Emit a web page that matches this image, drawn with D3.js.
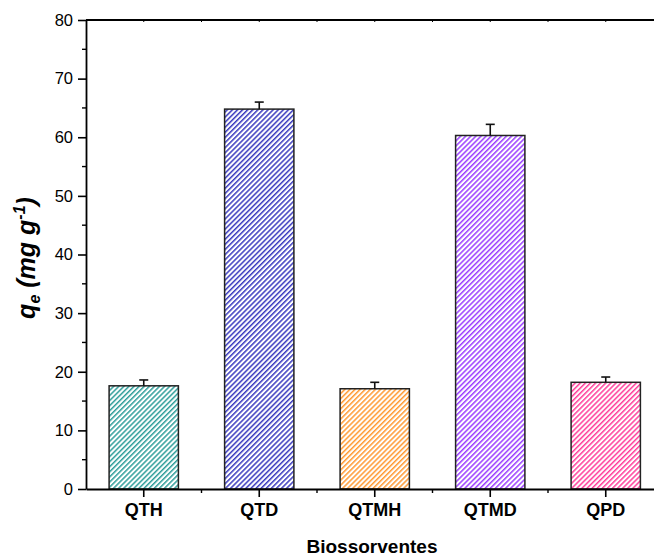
<!DOCTYPE html>
<html>
<head>
<meta charset="utf-8">
<script src="https://cdn.jsdelivr.net/npm/d3@7"></script>
<style>
  html, body { margin: 0; padding: 0; background: #fff; }
  svg { display: block; }
  text { font-family: "Liberation Sans", Arial, sans-serif; fill: #000; }
</style>
</head>
<body>
<svg id="chart" width="654" height="557"></svg>
<script>
// Adsorption capacity per biosorbent
const categories = ["QTH", "QTD", "QTMH", "QTMD", "QPD"];
const qeValues   = [17.6, 64.8, 17.1, 60.3, 18.2];
const qeErrors   = [1.0, 1.2, 1.1, 1.9, 0.9];
const barColors  = ["#2f9e9a", "#3a3abf", "#ff9a33", "#9a3dff", "#ff3d9a"];
const yTicks     = [0, 10, 20, 30, 40, 50, 60, 70, 80];

const svg = d3.select("#chart");
const margin = { left: 86, top: 20, bottom: 489 };
const step = 115.5;
const right = margin.left + step * categories.length;

const x = d3.scaleBand()
  .domain(categories)
  .range([margin.left, right])
  .paddingInner(0.4)
  .paddingOuter(0.2);

const y = d3.scaleLinear().domain([0, 80]).range([margin.bottom, margin.top]);

// hatch patterns, one per bar colour
const defs = svg.append("defs");
barColors.forEach((c, i) => {
  const p = defs.append("pattern")
    .attr("id", "hatch" + i)
    .attr("patternUnits", "userSpaceOnUse")
    .attr("width", 3.6)
    .attr("height", 10)
    .attr("patternTransform", "rotate(45)");
  p.append("rect").attr("width", 3.6).attr("height", 10).attr("fill", "#fff");
  p.append("rect").attr("width", 1.5).attr("height", 10).attr("fill", c);
});

// bars
svg.append("g").selectAll("rect")
  .data(categories)
  .join("rect")
  .attr("x", d => x(d))
  .attr("y", (d, i) => y(qeValues[i]))
  .attr("width", x.bandwidth())
  .attr("height", (d, i) => y(0) - y(qeValues[i]))
  .attr("fill", (d, i) => `url(#hatch${i})`)
  .attr("stroke", "#222")
  .attr("stroke-width", 1.5);

// upper error bars
const eb = svg.append("g").attr("stroke", "#111").attr("stroke-width", 1.6);
categories.forEach((d, i) => {
  const cx = x(d) + x.bandwidth() / 2;
  const y0 = y(qeValues[i]);
  const y1 = y(qeValues[i] + qeErrors[i]);
  eb.append("line").attr("x1", cx).attr("x2", cx).attr("y1", y0).attr("y2", y1);
  eb.append("line").attr("x1", cx - 4.5).attr("x2", cx + 4.5).attr("y1", y1).attr("y2", y1);
});

// left axis
const yAxis = d3.axisLeft(y).tickValues(yTicks).tickSize(8).tickSizeOuter(0).tickPadding(5);
const gy = svg.append("g").attr("transform", `translate(${margin.left},0)`).call(yAxis);
gy.select(".domain").attr("stroke-width", 1.8);
gy.selectAll(".tick line").attr("stroke-width", 1.6);
gy.selectAll(".tick text").style("font-size", "16.5px");
const yMinor = d3.range(5, 80, 10);
gy.selectAll(".minor").data(yMinor).join("line")
  .attr("x1", -4).attr("x2", 0)
  .attr("y1", d => y(d)).attr("y2", d => y(d))
  .attr("stroke", "#000").attr("stroke-width", 1.4);

// bottom axis
const xAxis = d3.axisBottom(x).tickSize(8).tickSizeOuter(0).tickPadding(6);
const gx = svg.append("g").attr("transform", `translate(0,${margin.bottom})`).call(xAxis);
gx.select(".domain").attr("stroke-width", 1.8);
gx.selectAll(".tick line").attr("stroke-width", 1.6);
gx.selectAll(".tick text").style("font-size", "18px").style("font-weight", "bold");
const edges = categories.slice(1).map(d => x(d) - x.step() * x.paddingInner() / 2);
gx.selectAll(".minor").data(edges).join("line")
  .attr("x1", d => d).attr("x2", d => d)
  .attr("y1", 0).attr("y2", 4)
  .attr("stroke", "#000").attr("stroke-width", 1.4);

// top frame line with small inward ticks
const gt = svg.append("g").attr("transform", `translate(0,${margin.top})`);
gt.append("line").attr("x1", margin.left).attr("x2", right + 20)
  .attr("stroke", "#000").attr("stroke-width", 1.8);
const topTicks = categories.map(d => x(d) + x.bandwidth() / 2).concat(edges);
gt.selectAll(".t").data(topTicks).join("line")
  .attr("x1", d => d).attr("x2", d => d)
  .attr("y1", 0).attr("y2", 2)
  .attr("stroke", "#000").attr("stroke-width", 1);

// axis titles
svg.append("text")
  .attr("x", 372).attr("y", 553)
  .attr("text-anchor", "middle")
  .style("font-size", "19px").style("font-weight", "bold")
  .text("Biossorventes");

const yl = svg.append("text")
  .attr("transform", "translate(35,258) rotate(-90)")
  .attr("text-anchor", "middle")
  .style("font-size", "25px").style("font-weight", "bold").style("font-style", "italic");
yl.append("tspan").text("q");
yl.append("tspan").attr("dy", 5).style("font-size", "16px").text("e");
yl.append("tspan").attr("dy", -5).text(" (mg g");
yl.append("tspan").attr("dy", -10).style("font-size", "16px").text("-1");
yl.append("tspan").attr("dy", 10).text(")");
</script>
</body>
</html>
